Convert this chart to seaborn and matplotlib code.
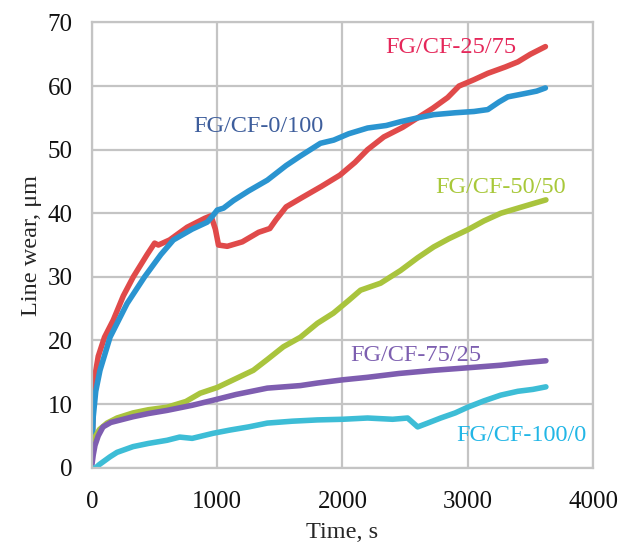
import pandas as pd
import matplotlib.pyplot as plt
import seaborn as sns

# Line wear vs time for the five FG/CF blends
t_25_75 = [0, 10, 20, 50, 100, 170, 250, 330, 440, 500, 530, 620, 760, 900, 950, 985, 1010, 1080,
           1200, 1330, 1420, 1470, 1550, 1680, 1830, 1980, 2100, 2200, 2330, 2480, 2600, 2720,
           2840, 2930, 3050, 3160, 3300, 3400, 3500, 3620]
w_25_75 = [2, 10, 14, 17.5, 20.5, 23.2, 27, 30, 33.5, 35.3, 35, 35.8, 37.8, 39.2, 39.6, 37.5, 35, 34.8,
           35.5, 37, 37.6, 39, 41, 42.5, 44.2, 46, 48, 50, 52, 53.5, 55, 56.5,
           58.2, 60, 61, 62, 63, 63.8, 65, 66.2]

t_0_100 = [0, 10, 30, 64, 144, 280, 420, 550, 650, 800, 920, 960, 1000, 1050, 1130, 1250, 1400,
           1550, 1664, 1824, 1930, 2050, 2200, 2350, 2464, 2600, 2728, 2900, 3050, 3160, 3250,
           3320, 3450, 3550, 3620]
w_0_100 = [3, 8, 12, 15.3, 20.5, 25.8, 30, 33.5, 35.8, 37.5, 38.6, 39.5, 40.5, 40.8, 42, 43.5, 45.2,
           47.5, 49, 51, 51.5, 52.5, 53.4, 53.8, 54.4, 55, 55.5, 55.8, 56, 56.3, 57.5,
           58.3, 58.8, 59.2, 59.7]

t_50_50 = [0, 10, 24, 60, 120, 200, 328, 450, 600, 750, 864, 1000, 1128, 1288, 1400, 1528, 1664,
           1800, 1928, 2050, 2144, 2304, 2400, 2464, 2600, 2728, 2850, 3000, 3130, 3264, 3400,
           3520, 3624]
w_50_50 = [1.5, 3.5, 4.8, 6, 7, 7.8, 8.6, 9.1, 9.5, 10.4, 11.7, 12.6, 13.8, 15.3, 17, 19, 20.5,
           22.7, 24.3, 26.3, 27.9, 29, 30.2, 31, 33, 34.7, 36, 37.4, 38.8, 40, 40.8,
           41.5, 42.1]

t_75_25 = [0, 10, 24, 50, 88, 150, 328, 450, 600, 800, 968, 1150, 1400, 1664, 1800, 2000, 2200,
           2450, 2728, 3000, 3264, 3450, 3624]
w_75_25 = [0.5, 2, 3.5, 5, 6.4, 7.1, 8, 8.5, 9, 9.8, 10.6, 11.5, 12.5, 12.9, 13.3, 13.8, 14.2,
           14.8, 15.3, 15.7, 16.1, 16.5, 16.8]

t_100_0 = [0, 8, 60, 144, 200, 328, 450, 600, 700, 800, 968, 1100, 1250, 1400, 1600, 1800, 2000,
           2200, 2400, 2520, 2600, 2680, 2784, 2900, 3000, 3130, 3264, 3400, 3520, 3624]
w_100_0 = [0, -0.4, 0.5, 1.7, 2.4, 3.3, 3.8, 4.3, 4.8, 4.6, 5.4, 5.9, 6.4, 7, 7.3, 7.5, 7.6,
           7.8, 7.6, 7.8, 6.4, 7, 7.8, 8.6, 9.5, 10.5, 11.4, 12, 12.3, 12.7]

series = {
    "FG/CF-25/75": (t_25_75, w_25_75),
    "FG/CF-0/100": (t_0_100, w_0_100),
    "FG/CF-50/50": (t_50_50, w_50_50),
    "FG/CF-75/25": (t_75_25, w_75_25),
    "FG/CF-100/0": (t_100_0, w_100_0),
}
line_colors = {
    "FG/CF-25/75": "#e04a4a",
    "FG/CF-0/100": "#2a94d0",
    "FG/CF-50/50": "#a9c43d",
    "FG/CF-75/25": "#7e5db0",
    "FG/CF-100/0": "#3dbdd6",
}
label_colors = {
    "FG/CF-25/75": "#e5275a",
    "FG/CF-0/100": "#3e5e9c",
    "FG/CF-50/50": "#a8c83a",
    "FG/CF-75/25": "#7d5fb0",
    "FG/CF-100/0": "#22b6e6",
}
# label positions in data coords (x, y)
label_pos = {
    "FG/CF-25/75": (2864, 66.0),
    "FG/CF-0/100": (1330, 53.6),
    "FG/CF-50/50": (3264, 44.1),
    "FG/CF-75/25": (2584, 17.7),
    "FG/CF-100/0": (3432, 5.1),
}

rows = []
for name, (ts, ws) in series.items():
    for t, w in zip(ts, ws):
        rows.append({"time": t, "wear": w, "sample": name})
df = pd.DataFrame(rows)

sns.set_style("whitegrid")
plt.rcParams["font.family"] = ["Liberation Serif", "DejaVu Serif"]

grid_c = "#c4c4c4"
fig = plt.figure(figsize=(6.19, 5.45), dpi=100)
ax = fig.add_axes([0.1486, 0.142, 0.8094, 0.8168])

sns.lineplot(data=df, x="time", y="wear", hue="sample", palette=line_colors,
             linewidth=4.0, legend=False, ax=ax, sort=False)

for name, (x, y) in label_pos.items():
    ax.text(x, y, name, color=label_colors[name], fontsize=17.5, ha="center", va="center")

ax.set_xlim(0, 4000)
ax.set_ylim(0, 70)
ax.set_xticks(range(0, 4001, 1000))
ax.set_yticks(range(0, 71, 10))
ax.grid(True, color=grid_c, linewidth=1.6)
ax.set_axisbelow(True)
for sp in ax.spines.values():
    sp.set_color(grid_c)
    sp.set_linewidth(1.6)
ax.tick_params(axis="both", which="major", length=9, width=1.6, color=grid_c,
               labelsize=18, labelcolor="#111111", direction="out")
ax.tick_params(axis="y", pad=5)
ax.tick_params(axis="x", pad=8)

ax.set_xlabel("Time, s", fontsize=17.5, labelpad=6)
ax.set_ylabel("Line wear, μm", fontsize=17.5, labelpad=4)

plt.savefig("out.png", dpi=100)
